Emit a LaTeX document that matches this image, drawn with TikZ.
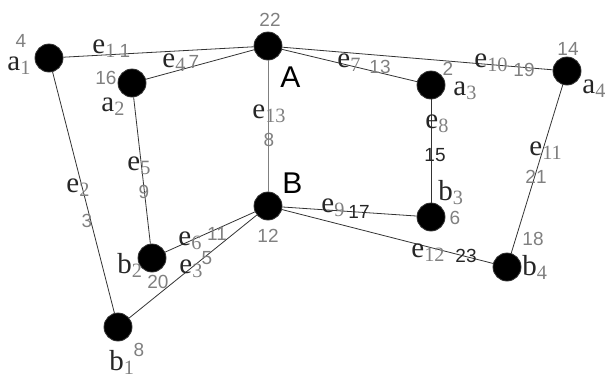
\documentclass[tikz,border=0pt]{standalone}
\usepackage{fontspec}
\setmainfont{Liberation Serif}
\setsansfont{Liberation Sans}
\usepackage{tikz}
\newcommand\ix[1]{\textsubscript{\color{gray}#1}}

\begin{document}
\begin{tikzpicture}[x = 1pt, y = -1pt, line width = 0.8pt, draw = black!80,
                      vert/.style = {circle, draw, fill = black, minimum size = 28pt, inner sep = 0pt},
                      nm/.style = {anchor = base west, inner sep = 0pt, text = black!85, font = \fontsize{29}{29}\selectfont},
                      big/.style = {anchor = base west, inner sep = 0pt, font = \sffamily\fontsize{30}{30}\selectfont},
                      wt/.style = {inner sep = 0pt, text = gray, font = \sffamily\fontsize{19}{19}\selectfont},
                      el/.style = {anchor = base west, inner sep = 0pt, text = black!85, font = \fontsize{29}{29}\selectfont},
                      ew/.style = {inner sep = 0pt, text = gray, font = \sffamily\fontsize{19}{19}\selectfont}]
    \useasboundingbox (0, 0) rectangle (605, 378);

    \node [vert] (a1) at (49, 58){};
    \node [vert] (a2) at (132, 83){};
    \node [vert] (A) at (268, 46){};
    \node [vert] (a3) at (431, 85){};
    \node [vert] (a4) at (567, 71){};
    \node [vert] (B) at (268, 206){};
    \node [vert] (b1) at (118, 327){};
    \node [vert] (b2) at (152, 258){};
    \node [vert] (b3) at (431, 217){};
    \node [vert] (b4) at (507, 267){};

    \node [nm] (na1) at (7, 70){a\ix{1}};
    \node [nm] (na2) at (101, 111){a\ix{2}};
    \node [nm] (na3) at (453, 95){a\ix{3}};
    \node [nm] (na4) at (582, 93){a\ix{4}};
    \node [nm] (nb1) at (109, 370){b\ix{1}};
    \node [nm] (nb2) at (117, 273){b\ix{2}};
    \node [nm] (nb3) at (438, 200){b\ix{3}};
    \node [nm] (nb4) at (522, 275){b\ix{4}};
    \node [big] (nA) at (280, 87){A};
    \node [big] (nB) at (282, 193){B};

    \node [wt] (wa1) at (21, 41){4};
    \node [wt] (wa2) at (106, 78){16};
    \node [wt] (wA) at (270, 20){22};
    \node [wt] (wa3) at (448, 69){2};
    \node [wt] (wa4) at (568, 49){14};
    \node [wt] (wB) at (268, 236){12};
    \node [wt] (wb1) at (139, 350){8};
    \node [wt] (wb2) at (158, 282){20};
    \node [wt] (wb3) at (455, 218){6};
    \node [wt] (wb4) at (533, 239){18};

    \draw (a1) -- (A);
    \draw (a2) -- (A);
    \draw (A) -- (a3);
    \draw (A) -- (a4);
    \draw[draw = gray] (A) -- (B);
    \draw (a1) -- (b1);
    \draw (a2) -- (b2);
    \draw (b2) -- (B);
    \draw (b1) -- (B);
    \draw (B) -- (b3);
    \draw (B) -- (b4);
    \draw (a3) -- (b3);
    \draw (a4) -- (b4);

    \node [el] (e1) at (92, 53){e\ix{1}};
    \node [ew] (w1) at (125, 51){1};
    \node [el] (e4) at (162, 67){e\ix{4}};
    \node [ew] (w4) at (194, 62){7};
    \node [el] (e7) at (337, 67){e\ix{7}};
    \node [ew] (w7) at (380, 67){13};
    \node [el] (e10) at (474, 67){e\ix{10}};
    \node [ew] (w10) at (524, 70){19};
    \node [el] (e13) at (252, 118){e\ix{13}};
    \node [ew] (w13) at (269, 140){8};
    \node [el] (e2) at (66, 192){e\ix{2}};
    \node [ew] (w2) at (87, 221){3};
    \node [el] (e5) at (127, 170){e\ix{5}};
    \node [ew] (w5) at (144, 192){9};
    \node [el] (e6) at (178, 245){e\ix{6}};
    \node [ew] (w6) at (217, 234){11};
    \node [el] (e3) at (179, 273){e\ix{3}};
    \node [ew] (w3) at (207, 258){5};
    \node [el] (e9) at (321, 212){e\ix{9}};
    \node [ew, text = black!85] (w9) at (359, 212){17};
    \node [el] (e12) at (411, 257){e\ix{12}};
    \node [ew, text = black!85] (w12) at (466, 256){23};
    \node [el] (e8) at (425, 128){e\ix{8}};
    \node [ew, text = black!85] (w8) at (435, 155){15};
    \node [el] (e11) at (529, 155){e\ix{11}};
    \node [ew] (w11) at (536, 177){21};
\end{tikzpicture}
\end{document}
